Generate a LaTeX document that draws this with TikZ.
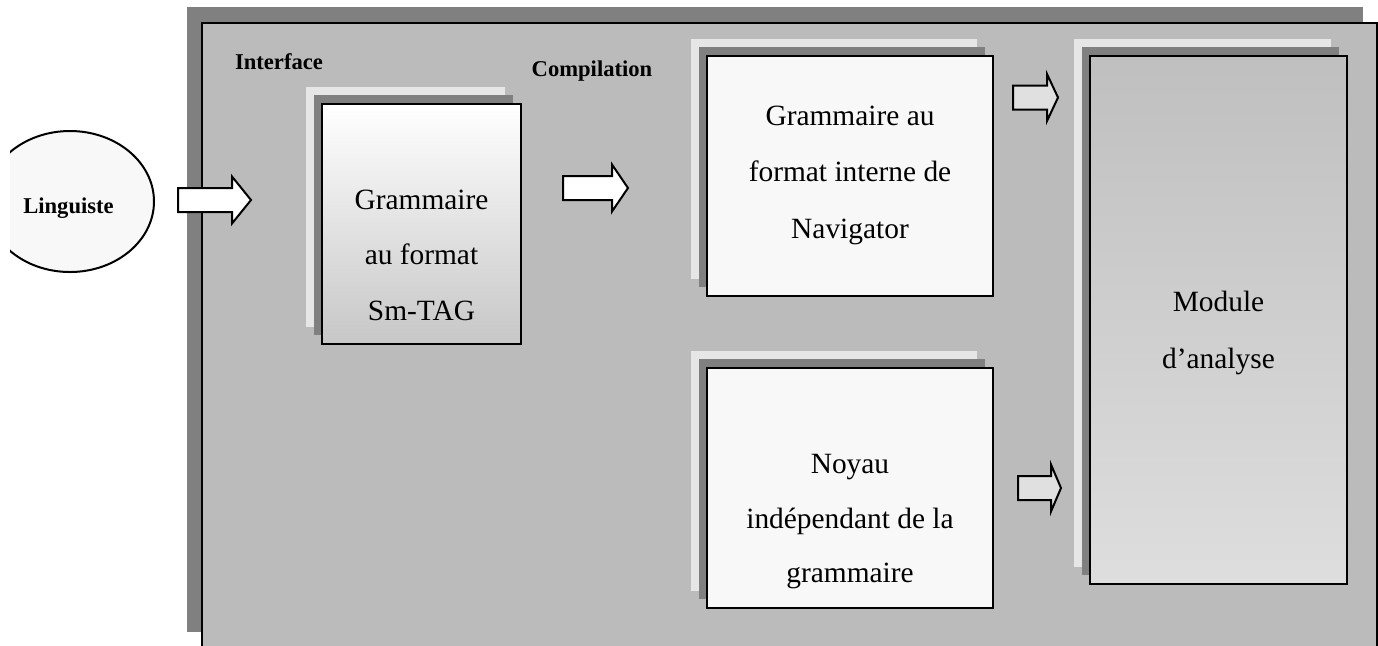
\documentclass[tikz,border=0pt]{standalone}
\usepackage{fontspec}
\setmainfont{Liberation Serif}
\usetikzlibrary{shapes.geometric,shadows,positioning}
\definecolor{FrameDark}{HTML}{808080}
\definecolor{FrameGray}{HTML}{BBBBBB}
\definecolor{LayerLight}{HTML}{E6E6E6}
\definecolor{BoxWhite}{HTML}{F8F8F8}
\definecolor{ArrowGray}{HTML}{E0E0E0}

\begin{document}
\begin{tikzpicture}[x=0.5pt,y=-0.5pt,every node/.style={align=center},
  stack/.style={draw=black, line width=1pt, inner sep=0pt,
    general shadow={fill=LayerLight, shadow xshift=-8pt, shadow yshift=8.5pt},
    general shadow={fill=FrameDark, shadow xshift=-4pt, shadow yshift=4.5pt}},
  boxtext/.style={font=\fontsize{14.7}{#1}\selectfont},
  boxtext/.default=28,
  tag/.style={font=\fontsize{11.3}{13}\selectfont\bfseries},
  pics/blockarrow/.style 2 args={code={
    \path[pic actions] (0,-12) -- ({#1-#2},-12) -- ({#1-#2},-23.5) -- (#1,0)
      -- ({#1-#2},23.5) -- ({#1-#2},12) -- (0,12) -- cycle;}}]
  \useasboundingbox (0,0) rectangle (1378,645);
  \clip (0,0) rectangle (1378,645);
  % cadre
  \fill[FrameDark] (187,7) rectangle (1363,632);
  \draw[fill=FrameGray, line width=1pt] (202,23) rectangle (1377,670);
  \node[tag, anchor=base] (interface) at (279,69) {Interface};
  \node[tag, anchor=base] (compil) at (592,76) {Compilation};
  % linguiste
  \begin{scope}
    \clip (10,0) rectangle (200,645);
    \node[ellipse, draw, fill=BoxWhite, line width=1pt, minimum width=84pt,
      minimum height=70.5pt] (ling) at (70,201.5) {};
  \end{scope}
  \node[tag, anchor=base] (lingtext) at (68.5,213) {Linguiste};
  % boites
  \node[stack, top color=white, bottom color=black!22, minimum width=99.5pt,
    minimum height=120pt] (smtag) at (421.5,224) {};
  \node[boxtext=27.75, text depth=0pt] (smtagtext) at (421.5,255)
    {Grammaire\\au format\\Sm-TAG};
  \node[stack, fill=BoxWhite, minimum width=143pt, minimum height=120pt]
    (navfmt) at (850,176) {};
  \node[boxtext=28.25] (navfmttext) at (850,175)
    {Grammaire au\\format interne de\\Navigator};
  \node[stack, fill=BoxWhite, minimum width=143pt, minimum height=120pt]
    (noyau) at (850,488) {};
  \node[boxtext=27.25] (noyautext) at (850,522)
    {Noyau\\indépendant de la\\grammaire};
  \node[stack, top color=black!25, bottom color=black!13, minimum width=128.5pt,
    minimum height=264pt] (analyse) at (1218.5,320) {};
  \node[boxtext=28.5] (analysetext) at (1218.5,333) {Module\\d’analyse};
  % fleches
  \pic[draw, fill=white, line width=1pt] at (178,200) {blockarrow={73}{19}};
  \pic[draw, fill=white, line width=1pt] at (563,188) {blockarrow={65}{16}};
  \pic[draw, fill=ArrowGray, line width=1pt] at (1013,97.5) {blockarrow={45}{11}};
  \pic[draw, fill=ArrowGray, line width=1pt] at (1018,488) {blockarrow={43}{10}};
\end{tikzpicture}
\end{document}
